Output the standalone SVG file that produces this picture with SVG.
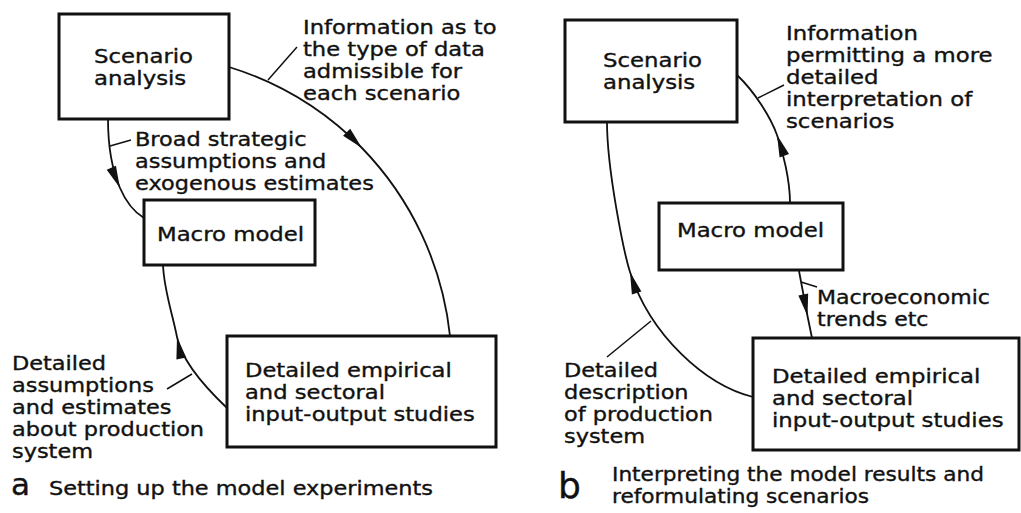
<svg xmlns="http://www.w3.org/2000/svg" width="1021" height="513" viewBox="0 0 1021 513">
<defs>
<style>
.box{fill:none;stroke:#111;stroke-width:3}
.con{fill:none;stroke:#111;stroke-width:1.8;marker-mid:url(#arr)}
.lead{fill:none;stroke:#111;stroke-width:1.5}
text{font-family:"DejaVu Sans",sans-serif;font-size:19px;fill:#111;stroke:#111;stroke-width:0.35}
.big{font-size:31px}
.bigb{font-size:36px}
</style>
<marker id="arr" markerUnits="userSpaceOnUse" orient="auto" markerWidth="30" markerHeight="14" viewBox="-24 -7 26 14" refX="0" refY="0">
<path d="M0,0 L-22,-5 L-22,5 Z" fill="#111"/>
</marker>
</defs>
<rect width="1021" height="513" fill="#fff"/>

<g id="connectors">
<path class="con" d="M229,67 A318,318 0 0 1 362,148 A318,318 0 0 1 450,336"/>
<path class="con" d="M108,119 C108,140 110,165 120,188 C126,202 134,212 144,218"/>
<path class="con" d="M227,408 C208,390 182,362 177,337 C172,312 164,290 163,265"/>
<path class="con" d="M790,203 C790,180 783,152 777,135 C771,118 755,92 737,75"/>
<path class="con" d="M753,397 C705,385 650,335 630,272 C624,253 607,170 607,122"/>
<path class="con" d="M799,271 L807.5,316 L812,338"/>
<line class="lead" x1="297" y1="47" x2="268" y2="80"/>
<line class="lead" x1="110" y1="146" x2="131" y2="140"/>
<line class="lead" x1="167" y1="389" x2="192" y2="374"/>
<line class="lead" x1="758" y1="98" x2="784" y2="85"/>
<line class="lead" x1="651" y1="321" x2="607" y2="357"/>
<line class="lead" x1="801" y1="282" x2="817" y2="287"/>
</g>

<g id="a-scenario">
<rect class="box" x="59" y="14" width="170" height="105"/>
<g transform="translate(94 0) scale(1.2 1)">
<text y="63">Scenario</text>
<text y="85">analysis</text>
</g>
</g>
<g id="a-macro">
<rect class="box" x="144" y="200" width="171" height="65"/>
<g transform="translate(157 0) scale(1.2 1)"><text y="241">Macro model</text></g>
</g>
<g id="a-studies">
<rect class="box" x="227" y="336" width="269" height="111"/>
<g transform="translate(245 0) scale(1.19 1)">
<text y="377">Detailed empirical</text>
<text y="399">and sectoral</text>
<text y="421">input-output studies</text>
</g>
</g>

<g id="b-scenario">
<rect class="box" x="565" y="20" width="172" height="102"/>
<g transform="translate(603 0) scale(1.2 1)">
<text y="67">Scenario</text>
<text y="89">analysis</text>
</g>
</g>
<g id="b-macro">
<rect class="box" x="659" y="203" width="184" height="67"/>
<g transform="translate(677 0) scale(1.2 1)"><text y="237">Macro model</text></g>
</g>
<g id="b-studies">
<rect class="box" x="753" y="338" width="266" height="112"/>
<g transform="translate(772 0) scale(1.2 1)">
<text y="383">Detailed empirical</text>
<text y="405">and sectoral</text>
<text y="427">input-output studies</text>
</g>
</g>

<g id="labels">
<g transform="translate(303 0) scale(1.19 1)">
<text y="34">Information as to</text>
<text y="56">the type of data</text>
<text y="78">admissible for</text>
<text y="100">each scenario</text>
</g>
<g transform="translate(135 0) scale(1.18 1)">
<text y="146">Broad strategic</text>
<text y="168">assumptions and</text>
<text y="190">exogenous estimates</text>
</g>
<g transform="translate(12 0) scale(1.18 1)">
<text y="370">Detailed</text>
<text y="392">assumptions</text>
<text y="414">and estimates</text>
<text y="436">about production</text>
<text y="458">system</text>
</g>
<g transform="translate(786 0) scale(1.2 1)">
<text y="40">Information</text>
<text y="62">permitting a more</text>
<text y="84">detailed</text>
<text y="106">interpretation of</text>
<text y="128">scenarios</text>
</g>
<g transform="translate(817 0) scale(1.16 1)">
<text y="304">Macroeconomic</text>
<text y="326">trends etc</text>
</g>
<g transform="translate(564 0) scale(1.18 1)">
<text y="377">Detailed</text>
<text y="399">description</text>
<text y="421">of production</text>
<text y="443">system</text>
</g>
</g>

<g id="captions">
<text class="big" x="11" y="495">a</text>
<g transform="translate(49 0) scale(1.18 1)"><text y="495">Setting up the model experiments</text></g>
<text class="bigb" x="558" y="498">b</text>
<g transform="translate(612 0) scale(1.14 1)">
<text y="481">Interpreting the model results and</text>
<text y="503">reformulating scenarios</text>
</g>
</g>
</svg>
